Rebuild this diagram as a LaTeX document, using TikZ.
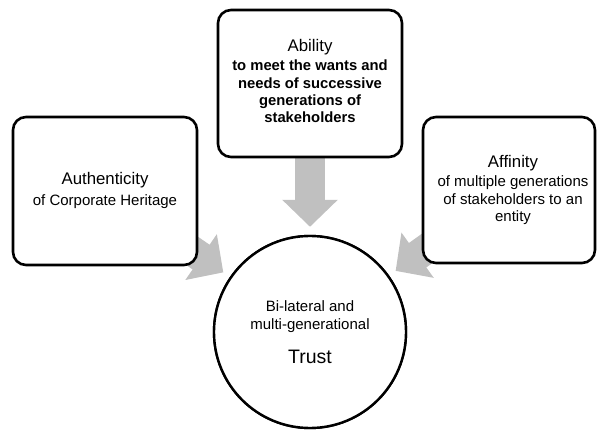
\documentclass[tikz,border=0pt]{standalone}
\usepackage{fontspec}
\setmainfont{Liberation Sans}
\usetikzlibrary{arrows.meta}
\definecolor{arrowgray}{RGB}{192,192,192}
\begin{document}
\begin{tikzpicture}[x=1pt,y=-1pt,
  box/.style={draw=black, line width=2.6pt, rounded corners=13pt, fill=white, inner sep=0pt},
  ring/.style={draw=black, line width=2.4pt, circle, fill=white, minimum size=192pt, inner sep=0pt},
  blockarrow/.style={draw=arrowgray, line width=30pt, -{Triangle[length=27pt,width=54pt]}, arrowgray, shorten >=8pt},
  head/.style={anchor=base, inner sep=0pt, font=\fontsize{16.8}{20}\selectfont},
  sub/.style={anchor=base, inner sep=0pt, font=\fontsize{15}{18}\selectfont},
  subb/.style={anchor=base, inner sep=0pt, font=\fontsize{14.8}{18}\selectfont\bfseries},
  big/.style={anchor=base, inner sep=0pt, font=\fontsize{19.5}{23}\selectfont}]
\useasboundingbox (0,0) rectangle (597,430);
% shape placeholders (for arrow geometry)
\coordinate (lc) at (105,191);
\coordinate (tc) at (310,83.5);
\coordinate (rc) at (509,190);
\node[ring] (trust) at (310,332) {};
% block arrows (behind the boxes)
\draw[blockarrow] (lc) -- (trust);
\draw[blockarrow] (tc) -- (trust);
\draw[blockarrow] (rc) -- (trust);
% boxes
\node[box, minimum width=184pt, minimum height=148pt] (left) at (lc) {};
\node[box, minimum width=184pt, minimum height=147pt] (top) at (tc) {};
\node[box, minimum width=172pt, minimum height=146pt] (right) at (rc) {};
\node[ring] (trustring) at (trust) {};
% texts
\node[head] (l1) at (105,185) {Authenticity};
\node[sub] (l2) at (105,206) {of Corporate Heritage};
\node[head] (t1) at (310,52) {Ability};
\node[subb] (t2) at (310,71) {to meet the wants and};
\node[subb] (t3) at (310,88.5) {needs of successive};
\node[subb] (t4) at (310,106) {generations of};
\node[subb] (t5) at (310,123) {stakeholders};
\node[head] (r1) at (513,168) {Affinity};
\node[sub] (r2) at (513,187) {of multiple generations};
\node[sub] (r3) at (513,204.5) {of stakeholders to an};
\node[sub] (r4) at (513,222) {entity};
\node[sub] (c1) at (310,312) {Bi-lateral and};
\node[sub] (c2) at (310,330) {multi-generational};
\node[big] (c3) at (310,363) {Trust};
\end{tikzpicture}
\end{document}
